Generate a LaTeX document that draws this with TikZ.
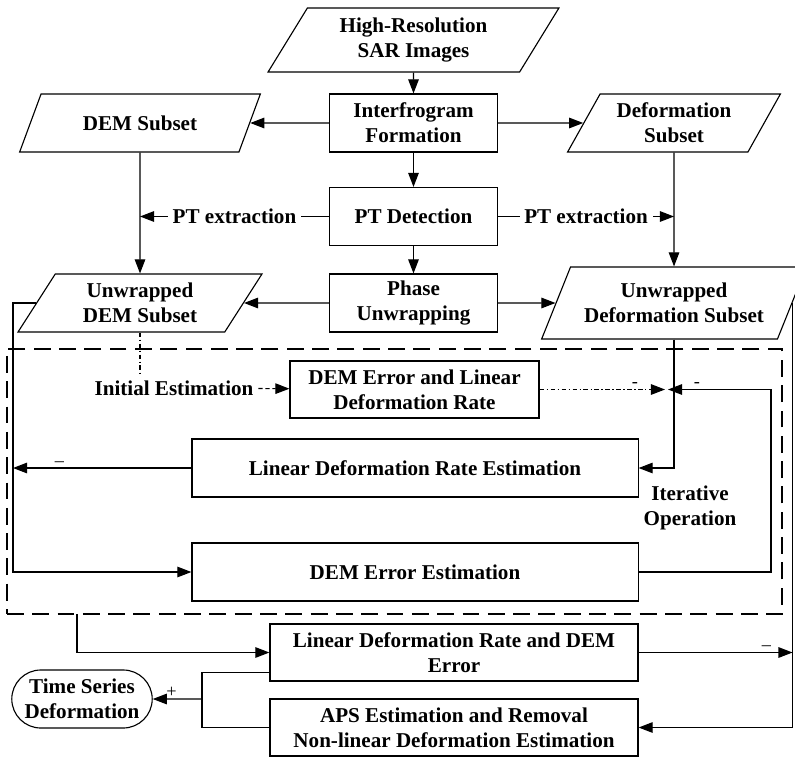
\documentclass[tikz,border=0pt]{standalone}
\usepackage{fontspec}
\setmainfont{Liberation Serif}
\usepackage{tikz}
\usetikzlibrary{arrows.meta, shapes.geometric, shapes.misc}

\begin{document}
\begin{tikzpicture}[
    x=0.025cm, y=-0.025cm,
    every node/.style={font=\fontsize{15}{17.8}\selectfont\bfseries, align=center},
    proc/.style={
        rectangle, draw, line width=0.8pt,
        minimum width=4.2cm, minimum height=1.45cm
    },
    dataio/.style={
        trapezium, trapezium left angle=63, trapezium right angle=117,
        trapezium stretches=true, draw, line width=0.8pt,
        minimum height=1.45cm, inner xsep=0pt
    },
    final/.style={
        rounded rectangle, draw, line width=0.8pt,
        minimum width=3.65cm, minimum height=1.45cm, inner xsep=2pt
    },
    flow/.style={-{Triangle[length=10pt,width=7.5pt]}, line width=0.8pt},
    sign/.style={font=\fontsize{13}{14}\selectfont, inner sep=1pt},
    loopframe/.style={draw, dash pattern=on 12pt off 6pt, line width=1.1pt}
]
\useasboundingbox (0,0) rectangle (795,757);

\node[dataio, minimum width=7.275cm, minimum height=1.6cm] (hires) at (413.5,40) {High-Resolution\\SAR Images};
\node[proc]   (interf) at (413.5,123)   {Interfrogram\\Formation};
\node[dataio, minimum width=6.025cm] (demsub) at (140,123) {DEM Subset};
\node[dataio, minimum width=5.325cm] (defsub) at (674,123) {Deformation\\Subset};
\node[proc]   (ptdet)  at (413.5,216.5) {PT Detection};
\node[proc]   (phunw)  at (413.5,303)   {Phase\\Unwrapping};
\node[dataio, minimum width=6.1cm] (udem) at (140,303) {Unwrapped\\DEM Subset};
\node[dataio, minimum width=6.625cm, minimum height=1.8cm] (udef) at (674,303) {Unwrapped\\Deformation Subset};

\node[loopframe, minimum width=19.375cm, minimum height=6.625cm] (iterbox) at (394.5,481.5) {};
\node (initest) at (174,388) {Initial Estimation};
\node[proc, minimum width=6.225cm, minimum height=1.425cm] (dlr) at (414.5,389.5) {DEM Error and Linear\\Deformation Rate};
\node[proc, minimum width=11.15cm] (ldre)   at (415,468) {Linear Deformation Rate Estimation};
\node[proc, minimum width=11.15cm] (demest) at (415,572) {DEM Error Estimation};
\node (iterop) at (690,508) {Iterative\\Operation};

\node[proc, minimum width=9.2cm, minimum height=1.425cm] (ldrdem) at (454,652.5) {Linear Deformation Rate and DEM\\Error};
\node[proc, minimum width=9.2cm, minimum height=1.425cm] (aps) at (454,727.5) {APS Estimation and Removal\\Non-linear Deformation Estimation};
\node[final] (tsd) at (82,699) {Time Series\\Deformation};

\coordinate (loopl) at (13,303);
\coordinate (jl)    at (665,389.5);
\coordinate (jr)    at (668,389.5);
\coordinate (loopr) at (771,389.5);
\coordinate (dbot)  at (77,614);
\coordinate (brk)   at (202,699);

% preparation
\draw[flow] (hires) -- (interf);
\draw[flow] (interf) -- (demsub);
\draw[flow] (interf) -- (defsub);
\draw[flow] (interf) -- (ptdet);
\draw[flow] (ptdet) -- (phunw);
\draw[flow] (ptdet) -- node[fill=white] {PT extraction} (ptdet -| demsub);
\draw[flow] (ptdet) -- node[fill=white] {PT extraction} (ptdet -| defsub);
\draw[flow] (demsub) -- (udem);
\draw[flow] (defsub) -- (udef);
\draw[flow] (phunw) -- (udem);
\draw[flow] (phunw) -- (udef);

% iteration
\draw[line width=0.8pt, dash dot] (udem.south) -- (udem.south |- initest.north);
\draw[flow, densely dashed] (initest) -- (dlr);
\draw[flow, dash dot] (dlr.east) -- node[sign, pos=0.76, above] {-} (jl);
\draw[flow] (udef.south) |- (ldre.east);
\draw[flow] (demest.east) -| (loopr) -- node[sign, pos=0.72, above] {-} (jr);
\draw[flow] (udem.west) -- (udem.west -| loopl) |- (demest.west);
\draw[flow] (ldre.west) -- node[sign, pos=0.74, above] {\textendash} (ldre.west -| loopl);

% final steps
\draw[flow] (dbot) |- (ldrdem.west);
\draw[flow] (ldrdem.east) -- node[sign, pos=0.83, above] {\textendash} (ldrdem.east -| udef.east);
\draw[flow] (udef.east) |- (aps.east);
\draw[line width=0.8pt] (ldrdem.south west) ++(0,-9) -| (brk) |- (aps.west);
\draw[flow] (brk) -- node[sign, pos=0.62, above] {+} (tsd);
\end{tikzpicture}
\end{document}
